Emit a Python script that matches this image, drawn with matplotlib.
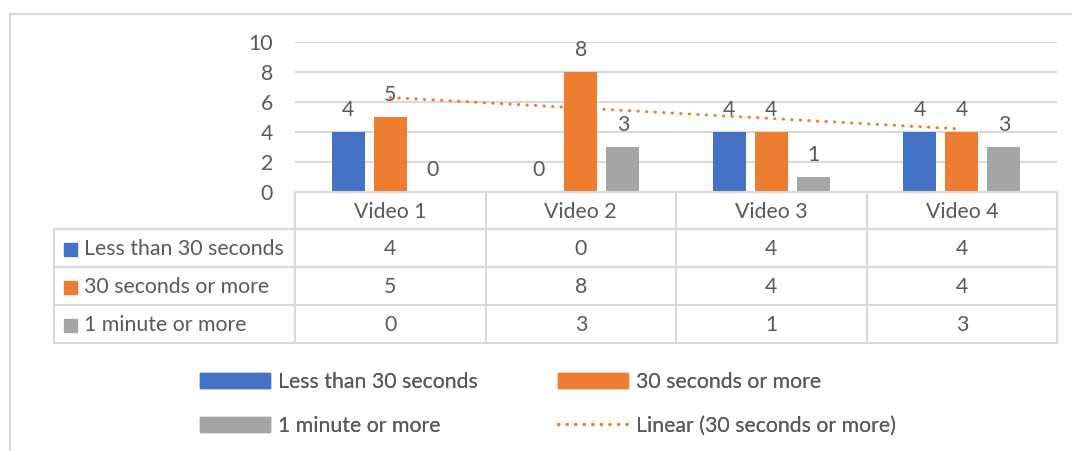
import numpy as np
import matplotlib
matplotlib.use("Agg")
import matplotlib.pyplot as plt
from matplotlib.patches import Patch, Rectangle
from matplotlib.lines import Line2D
from matplotlib.transforms import blended_transform_factory

categories = ["Video 1", "Video 2", "Video 3", "Video 4"]
series_names = ["Less than 30 seconds", "30 seconds or more", "1 minute or more"]
less_30s = [4, 0, 4, 4]
over_30s = [5, 8, 4, 4]
over_1min = [0, 3, 1, 3]
series_values = [less_30s, over_30s, over_1min]
series_colors = ["#4472C4", "#ED7D31", "#A5A5A5"]
trend_label = "Linear (30 seconds or more)"
y_ticks = [0, 2, 4, 6, 8, 10]

TEXT = "#595959"
GRID = "#D9D9D9"
FS = 15.3

plt.rcParams["font.family"] = ["Lato", "DejaVu Sans"]

W, H = 1072, 451
fig = plt.figure(figsize=(W / 100, H / 100), dpi=100)


def px_rect(left, top, right, bottom):
    return [left / W, 1 - bottom / H, (right - left) / W, (bottom - top) / H]


# overlay in pixel units for the data table and the frame
tab = fig.add_axes([0, 0, 1, 1], zorder=0)
tab.set_xlim(0, W)
tab.set_ylim(H, 0)
tab.axis("off")

ax = fig.add_axes(px_rect(295, 42, 1057, 192), zorder=1)
ax.patch.set_alpha(0)

x = np.arange(len(categories))
width = 0.173
step = 0.221
for k, (vals, color) in enumerate(zip(series_values, series_colors)):
    pos = x + (k - 1) * step
    ax.bar(pos, vals, width, color=color, zorder=2)
    for xp, v in zip(pos, vals):
        ax.annotate(str(v), (xp, v), xytext=(0, 11.5), textcoords="offset points",
                    ha="center", va="baseline", fontsize=FS, color=TEXT)

# linear trendline on the orange series
dots = (0, (0.1, 2.7))
coef = np.polyfit(x + 1, over_30s, 1)
ax.plot(x, np.polyval(coef, x + 1), color="#ED7D31", linewidth=2.2,
        linestyle=dots, dash_capstyle="round", zorder=3)

ax.set_xlim(-0.5, len(categories) - 0.5)
ax.set_ylim(0, 10)
ax.set_yticks(y_ticks)
ax.set_xticks([])
ax.grid(axis="y", color=GRID, linewidth=1.5, zorder=0)
ax.tick_params(axis="y", length=0, pad=16, labelsize=FS, labelcolor=TEXT)
for side in ["top", "right", "left"]:
    ax.spines[side].set_visible(False)
ax.spines["bottom"].set_color(GRID)
ax.spines["bottom"].set_linewidth(1.5)

# data table below the plot area
bt = blended_transform_factory(ax.transData, tab.transData)
row_edges = [192, 229, 267, 305, 343]
tab_left = 54
lw = 1.5
for b in np.arange(len(categories) + 1) - 0.5:
    tab.plot([b, b], [row_edges[0], row_edges[-1]], color=GRID, lw=lw, transform=bt)
for r in row_edges[1:]:
    tab.plot([tab_left, 295], [r, r], color=GRID, lw=lw)
    tab.plot([-0.5, len(categories) - 0.5], [r, r], color=GRID, lw=lw, transform=bt)
tab.plot([tab_left, tab_left], [row_edges[1], row_edges[-1]], color=GRID, lw=lw)

for i, cat in enumerate(categories):
    tab.text(i, (row_edges[0] + row_edges[1]) / 2 + 1.5, cat, ha="center", va="center",
             fontsize=FS, color=TEXT, transform=bt)
for j, (name, vals, color) in enumerate(zip(series_names, series_values, series_colors)):
    yc = (row_edges[j + 1] + row_edges[j + 2]) / 2 + 1
    tab.add_patch(Rectangle((64, yc - 6.5), 13, 13, color=color))
    tab.text(84, yc, name, ha="left", va="center", fontsize=FS, color=TEXT)
    for i, v in enumerate(vals):
        tab.text(i, yc, str(v), ha="center", va="center", fontsize=FS,
                 color=TEXT, transform=bt)

# chart frame
tab.plot([10, W], [14, 14], color=GRID, lw=1.5)
tab.plot([10, 10], [14, H], color=GRID, lw=1.5)

# legend, two columns
handles = [Patch(color=c) for c in series_colors]
trend_handle = Line2D([], [], color="#ED7D31", linewidth=2.2,
                      linestyle=dots, dash_capstyle="round")
legend_cols = [
    ([handles[0], handles[2]], [series_names[0], series_names[2]], 200),
    ([handles[1], trend_handle], [series_names[1], trend_label], 558),
]
fs_px = FS * 100 / 72
for hs, labels, left in legend_cols:
    leg = fig.legend(hs, labels, loc="center left",
                     bbox_to_anchor=(left / W, 1 - 404 / H),
                     frameon=False, fontsize=FS, labelcolor=TEXT,
                     handlelength=70 / fs_px, handleheight=15 / fs_px,
                     handletextpad=8 / fs_px, labelspacing=1.1,
                     borderpad=0, borderaxespad=0)
    fig.add_artist(leg)

fig.savefig("out.png", dpi=100, facecolor="white")
